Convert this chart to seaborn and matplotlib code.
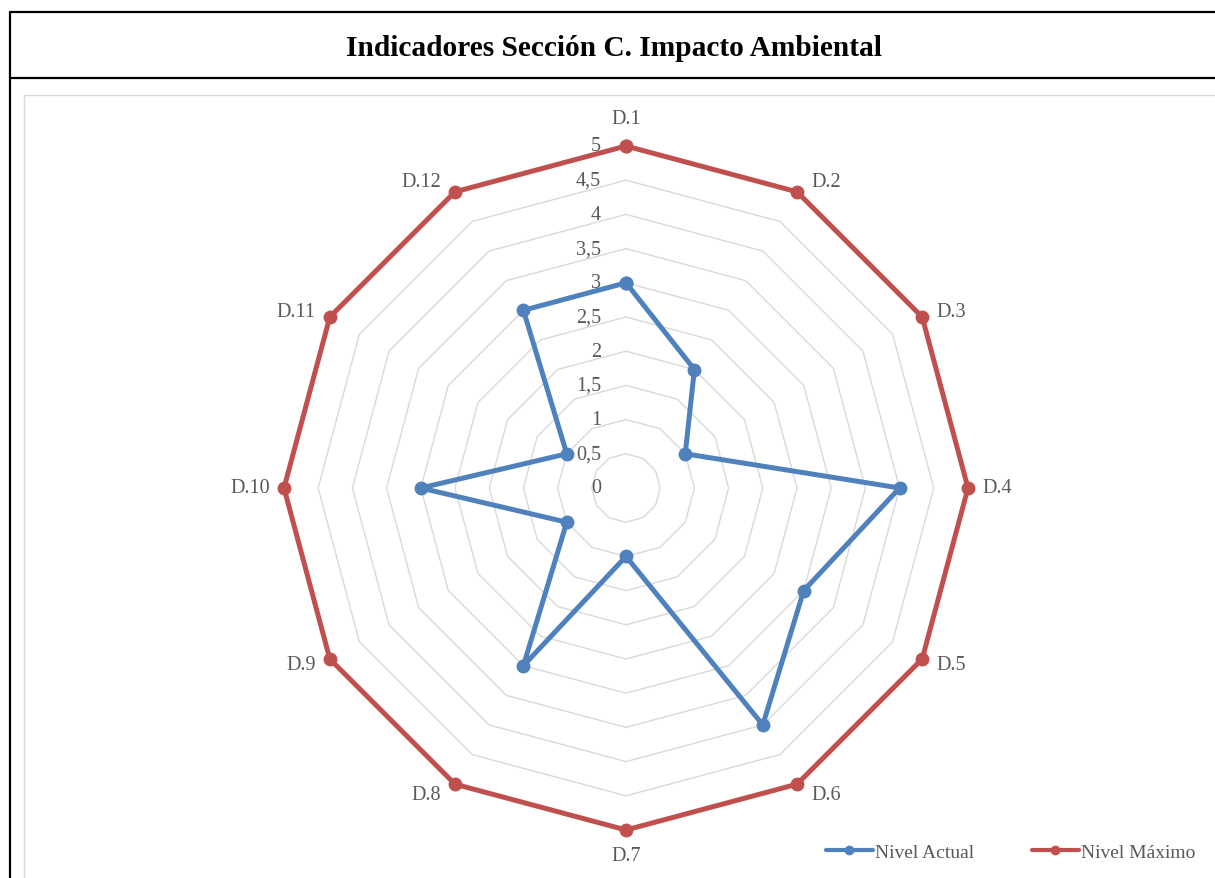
import numpy as np
import pandas as pd
import matplotlib
matplotlib.use("Agg")
import matplotlib.pyplot as plt
from matplotlib.lines import Line2D
import seaborn as sns

# datos del gráfico
categorias = ["D.1", "D.2", "D.3", "D.4", "D.5", "D.6",
              "D.7", "D.8", "D.9", "D.10", "D.11", "D.12"]
nivel_actual = [3, 2, 1, 4, 3, 4, 1, 3, 1, 3, 1, 3]
nivel_maximo = [5, 5, 5, 5, 5, 5, 5, 5, 5, 5, 5, 5]
escala = [0, 0.5, 1, 1.5, 2, 2.5, 3, 3.5, 4, 4.5, 5]
etiquetas_escala = ["0", "0,5", "1", "1,5", "2", "2,5", "3", "3,5", "4", "4,5", "5"]
titulo = "Indicadores Sección C. Impacto Ambiental"

AZUL = "#4F81BD"
ROJO = "#C0504D"
GRIS_TXT = "#595959"
GRIS_GRID = "#D9D9D9"

sns.set_style("white")
plt.rcParams['font.family'] = ['Liberation Serif', 'DejaVu Sans']

W, H = 1215, 879
fig = plt.figure(figsize=(W / 100, H / 100), dpi=100)

# ---- marco tipo tabla ----
def fx(px):
    return px / W

def fy(py):
    return 1 - py / H

for (x0, y0, x1, y1) in [(10, 13, 10, H + 5), (10, 13, W + 5, 13), (10, 79, W + 5, 79)]:
    fig.add_artist(Line2D([fx(x0), fx(x1)], [fy(y0), fy(y1)], color="black", lw=1.6))
for (x0, y0, x1, y1) in [(24, 96, 24, H + 5), (24, 96, W + 5, 96)]:
    fig.add_artist(Line2D([fx(x0), fx(x1)], [fy(y0), fy(y1)], color=GRIS_GRID, lw=1.0))

fig.text(fx(614), fy(48), titulo, ha="center", va="center", fontsize=21.2,
         fontweight="bold", color="black")

# ---- radar ----
cx, cy, R = 626, 489, 342
ax = fig.add_axes([fx(cx - R), fy(cy + R), 2 * R / W, 2 * R / H], projection="polar")
ax.set_theta_zero_location("N")
ax.set_theta_direction(-1)
ax.set_ylim(0, 5)
ax.grid(False)
ax.spines["polar"].set_visible(False)
ax.set_xticks([])
ax.set_yticks([])
ax.patch.set_alpha(0)

n = len(categorias)
angulos = np.linspace(0, 2 * np.pi, n, endpoint=False)
ang_cerrado = np.append(angulos, angulos[0])

# rejilla poligonal
for v in escala[1:]:
    ax.plot(ang_cerrado, [v] * (n + 1), color=GRIS_GRID, lw=1.0, zorder=1)

# series
filas = []
for serie, valores in [("Nivel Actual", nivel_actual), ("Nivel Máximo", nivel_maximo)]:
    vals = valores + [valores[0]]
    for a, v in zip(ang_cerrado, vals):
        filas.append({"theta": a, "valor": v, "serie": serie})
df = pd.DataFrame(filas)

sns.lineplot(data=df, x="theta", y="valor", hue="serie", sort=False,
             palette={"Nivel Actual": AZUL, "Nivel Máximo": ROJO},
             marker="o", markersize=10, markeredgewidth=0, linewidth=3.6,
             estimator=None, legend=False, ax=ax, zorder=3, clip_on=False)
ax.set_xlabel("")
ax.set_ylabel("")
ax.set_ylim(0, 5)

# etiquetas de escala
for v, t in zip(escala, etiquetas_escala):
    ax.annotate(t, xy=(0, v), xytext=(-25 / 1.389, 0), textcoords="offset points",
                ha="right", va="center", fontsize=14.5, color=GRIS_TXT, zorder=4)

# etiquetas de categorías
for a, c in zip(angulos, categorias):
    s, co = np.sin(a), np.cos(a)
    if abs(s) < 0.01:
        ha = "center"
        if co > 0:
            dx, dy, va = 0, 18, "bottom"
        else:
            dx, dy, va = 0, -16, "top"
    else:
        ha = "left" if s > 0 else "right"
        va = "center"
        dx, dy = 14 * np.sign(s), 12 * co
    ax.annotate(c, xy=(a, 5), xytext=(dx / 1.389, dy / 1.389), textcoords="offset points",
                ha=ha, va=va, fontsize=14.5, color=GRIS_TXT)

# leyenda
handles = [Line2D([], [], color=AZUL, lw=3, marker="o", markersize=6, label="Nivel Actual"),
           Line2D([], [], color=ROJO, lw=3, marker="o", markersize=6, label="Nivel Máximo")]
fig.legend(handles=handles, loc="center left", bbox_to_anchor=(fx(826), fy(853)),
           ncol=2, frameon=False, fontsize=14, handlelength=2.4, handletextpad=0.1,
           columnspacing=3.0, borderpad=0, borderaxespad=0, labelcolor=GRIS_TXT)

fig.savefig("out.png", dpi=100)
